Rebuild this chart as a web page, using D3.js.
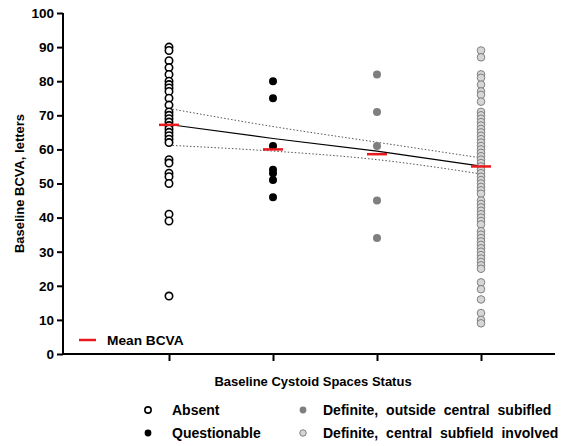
<!DOCTYPE html>
<html><head><meta charset="utf-8">
<script src="https://cdn.jsdelivr.net/npm/d3@7"></script>
<style>
html,body{margin:0;padding:0;background:#fff;}
svg text{font-family:"Liberation Sans",Arial,sans-serif;font-weight:bold;fill:#000;}
</style></head>
<body><svg id="c" width="574" height="446"></svg>
<script>
const categories = ["Absent", "Questionable", "Definite, outside central subifled", "Definite, central subfield involved"];
const absentValues = [90, 89, 86, 84, 82, 80, 79, 78, 77, 75, 73, 71, 70, 69, 68, 67, 66, 65, 64, 63, 62, 57, 56, 53, 52, 50, 41, 39, 17];
const questionableValues = [80, 75, 61, 54, 53, 51, 46];
const outsideValues = [82, 71, 61, 45, 34];
const centralValues = [89, 87, 82, 81, 79, 77, 76, 74, 71, 70, 69, 68, 67, 66, 65, 64, 63, 62, 61, 60, 59, 58, 57, 56, 55, 54, 53, 52, 51, 50, 49, 48, 47, 45, 44, 43, 42, 41, 40, 39, 38, 36, 35, 34, 33, 32, 31, 30, 29, 28, 27, 26, 25, 21, 19, 16, 12, 10, 9];
const meanBCVA = [67.2, 60, 58.6, 55];
const fitLine = [67.3, 63.2, 59.5, 55.1];
const ciUpper = [72, 66.7, 62.1, 57.5];
const ciLower = [61.2, 59.5, 57, 52.8];
const yTicks = [0, 10, 20, 30, 40, 50, 60, 70, 80, 90, 100];

const svg = d3.select("#c");
const x0 = 63, x1 = 555, yTop = 13, yBot = 354;
const y = d3.scaleLinear().domain([0, 100]).range([yBot, yTop]);
const x = d3.scalePoint().domain(d3.range(4)).range([169, 481]);

// axes
const yAxis = d3.axisLeft(y).tickValues(yTicks).tickSize(6).tickPadding(3);
const gy = svg.append("g").attr("transform", `translate(${x0},0)`).call(yAxis);
gy.select(".domain").attr("stroke-width", 2).attr("d", `M0,${yTop}V${yBot+1}`);
gy.selectAll(".tick line").attr("stroke-width", 2);
gy.selectAll(".tick text").style("font-size", "13.5px").style("font-family", "Liberation Sans, Arial, sans-serif").style("font-weight", "bold");

const xAxis = d3.axisBottom(x).tickSize(7).tickFormat("");
const gx = svg.append("g").attr("transform", `translate(0,${yBot})`).call(xAxis);
gx.select(".domain").attr("stroke-width", 2).attr("d", `M${x0-1},0H${x1}`);
gx.selectAll(".tick line").attr("stroke-width", 2);

// fit line and CI
const line = d3.line().x((d, i) => x(i)).y(d => y(d));
const lineC = d3.line().x((d, i) => x(i)).y(d => y(d)).curve(d3.curveMonotoneX);
svg.append("path").attr("d", lineC(ciUpper)).attr("fill", "none").attr("stroke", "#555").attr("stroke-width", 1).attr("stroke-dasharray", "1.5,2");
svg.append("path").attr("d", lineC(ciLower)).attr("fill", "none").attr("stroke", "#555").attr("stroke-width", 1).attr("stroke-dasharray", "1.5,2");
svg.append("path").attr("d", line(fitLine)).attr("fill", "none").attr("stroke", "#000").attr("stroke-width", 1.2);

// points
const styles = [
  {fill: "#fff", stroke: "#000", sw: 1.6, r: 3.7},
  {fill: "#000", stroke: "#000", sw: 0, r: 4},
  {fill: "#7f7f7f", stroke: "#7f7f7f", sw: 0, r: 4},
  {fill: "#d6d6d6", stroke: "#808080", sw: 1, r: 3.8}
];
const groups = [absentValues, questionableValues, outsideValues, centralValues];
groups.forEach((vals, i) => {
  svg.append("g").selectAll("circle").data(vals).join("circle")
    .attr("cx", x(i)).attr("cy", d => y(d)).attr("r", styles[i].r)
    .attr("fill", styles[i].fill).attr("stroke", styles[i].stroke).attr("stroke-width", styles[i].sw);
});

// means
svg.append("g").selectAll("line").data(meanBCVA).join("line")
  .attr("x1", (d, i) => x(i) - 10).attr("x2", (d, i) => x(i) + 10)
  .attr("y1", d => y(d)).attr("y2", d => y(d))
  .attr("stroke", "#e8191c").attr("stroke-width", 2.5);

// axis titles
svg.append("text").attr("transform", `translate(24,${(yTop+yBot)/2}) rotate(-90)`)
  .attr("text-anchor", "middle").style("font-size", "13px").text("Baseline BCVA, letters");
svg.append("text").attr("x", 313).attr("y", 386).attr("text-anchor", "middle")
  .style("font-size", "13px").text("Baseline Cystoid Spaces Status");

// mean legend
svg.append("line").attr("x1", 79).attr("x2", 96).attr("y1", 340).attr("y2", 340).attr("stroke", "#e8191c").attr("stroke-width", 2.5);
svg.append("text").attr("x", 107).attr("y", 345).style("font-size", "13.7px").text("Mean BCVA");

// bottom legend
const legPos = [[148, 410], [148, 433], [303, 410], [303, 433]];
categories.forEach((c, i) => {
  const [lx, ly] = legPos[i];
  svg.append("circle").attr("cx", lx).attr("cy", ly).attr("r", styles[i].r * 0.85)
    .attr("fill", styles[i].fill).attr("stroke", styles[i].stroke).attr("stroke-width", styles[i].sw);
  svg.append("text").attr("x", lx + (i < 2 ? 24 : 20)).attr("y", ly + 5)
    .style("font-size", "14px").style("word-spacing", "4px").text(c);
});
</script></body></html>
